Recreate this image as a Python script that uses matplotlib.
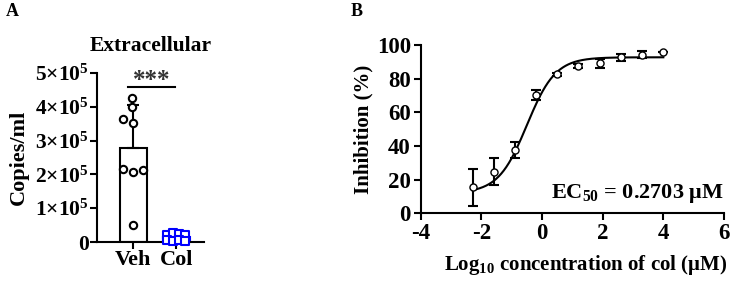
import numpy as np
import matplotlib
matplotlib.use('Agg')
import matplotlib.pyplot as plt

plt.rcParams['font.family'] = ['Liberation Serif', 'DejaVu Serif']
plt.rcParams['font.weight'] = 'bold'
plt.rcParams['mathtext.default'] = 'regular'
plt.rcParams['axes.linewidth'] = 1.5
plt.rcParams['axes.unicode_minus'] = False

# Panel A data (copies/ml)
groups = ['Veh', 'Col']
veh_vals = np.array([3.64, 4.25, 4.0, 3.53, 2.16, 2.07, 2.14, 0.49]) * 1e5
veh_xoff = [-0.23, -0.02, -0.02, 0.0, -0.23, 0.0, 0.23, 0.0]
col_vals = np.array([0.22, 0.26, 0.24, 0.22, 0.05, 0.03, 0.06, 0.04]) * 1e5
col_xoff = [-0.22, -0.07, 0.07, 0.21, -0.22, -0.07, 0.07, 0.21]
ytick_vals = [0, 1e5, 2e5, 3e5, 4e5, 5e5]
ytick_labels = ['0', '1×10$^5$', '2×10$^5$', '3×10$^5$', '4×10$^5$', '5×10$^5$']

# Panel B data
log_conc = [-2.29, -1.59, -0.89, -0.19, 0.5, 1.2, 1.9, 2.6, 3.3, 4.0]
inhib = [15.4, 24.8, 37.6, 70.1, 82.6, 87.5, 89.1, 92.7, 94.3, 96.0]
inhib_err = [11.0, 8.0, 5.0, 3.0, 1.0, 1.0, 2.5, 2.0, 2.2, 0.0]
# 4PL fit parameters (bottom, top, logEC50 of curve, hill)
fit_bottom, fit_top, fit_logc, fit_hill = 12.0, 92.7, -0.5, 0.92

fig = plt.figure(figsize=(7.3, 2.81), dpi=100)

# ---------- Panel A ----------
axA = fig.add_axes([97/730, 39/281, 107/730, 169/281])
means = [veh_vals.mean(), col_vals.mean()]
sds = [veh_vals.std(ddof=1), col_vals.std(ddof=1)]
axA.bar([0], [means[0]], width=0.63, color='white', edgecolor='black', linewidth=1.5, zorder=1)
axA.bar([1], [means[1]], width=0.63, color='white', edgecolor='#0000ff', linewidth=1.5, zorder=1)
axA.errorbar([0], [means[0]], yerr=[[0], [sds[0]]], fmt='none', ecolor='black',
             elinewidth=1.5, capsize=4, capthick=1.5, zorder=2)
axA.scatter(np.array(veh_xoff), veh_vals, s=28, facecolor='white', edgecolor='black',
            linewidth=1.5, zorder=3, clip_on=False)
axA.scatter(1 + np.array(col_xoff), col_vals, marker='s', s=30, facecolor='white',
            edgecolor='#0000ff', linewidth=1.5, zorder=3, clip_on=False)
axA.plot([-0.12, 0.98], [4.58e5, 4.58e5], color='black', lw=1.5, clip_on=False)
axA.text(0.43, 4.45e5, '***', ha='center', va='bottom', fontsize=18,
         color='#333333', clip_on=False)
axA.set_xlim(-0.84, 1.65)
axA.set_ylim(0, 5e5)
axA.set_xticks([0, 1])
axA.set_xticklabels(groups, fontsize=16, fontweight='bold')
axA.set_yticks(ytick_vals)
axA.set_yticklabels(ytick_labels, fontsize=15.5, fontweight='bold')
axA.tick_params(width=1.5, length=5, pad=1)
axA.spines['top'].set_visible(False)
axA.spines['right'].set_visible(False)
axA.set_ylabel('Copies/ml', fontsize=16, fontweight='bold')
axA.yaxis.set_label_coords(-0.64, 0.5)
axA.set_title('Extracellular', fontsize=15.5, fontweight='bold', pad=16)

# ---------- Panel B ----------
axB = fig.add_axes([420.7/730, 67.7/281, 303.3/730, 168.3/281])
xf = np.linspace(log_conc[0], log_conc[-1], 300)
yf = fit_bottom + (fit_top - fit_bottom) / (1 + 10 ** ((fit_logc - xf) * fit_hill))
axB.plot(xf, yf, color='black', lw=1.5, zorder=2)
axB.errorbar(log_conc, inhib, yerr=inhib_err, fmt='none', ecolor='black',
             elinewidth=1.5, capsize=3.5, capthick=1.5, zorder=3)
axB.scatter(log_conc, inhib, s=26, facecolor='white', edgecolor='black',
            linewidth=1.0, zorder=4, clip_on=False)
axB.set_xlim(-4, 6)
axB.set_ylim(0, 100)
axB.set_xticks([-4, -2, 0, 2, 4, 6])
axB.set_yticks([0, 20, 40, 60, 80, 100])
axB.tick_params(labelsize=16.5, width=1.5, length=5, pad=2)
for lab in axB.get_xticklabels() + axB.get_yticklabels():
    lab.set_fontweight('bold')
axB.spines['top'].set_visible(False)
axB.spines['right'].set_visible(False)
axB.set_ylabel('Inhibition (%)', fontsize=15, fontweight='bold')
axB.yaxis.set_label_coords(-0.155, 0.5)
axB.set_xlabel('Log$_{10}$ concentration of col (μM)', fontsize=15, fontweight='bold')
axB.xaxis.set_label_coords(0.545, -0.235)
axB.text(6, 9, 'EC$_{50}$ = 0.2703 μM', ha='right', va='baseline',
         fontsize=16, fontweight='bold')

fig.text(12/730, 1 - 12/281, 'A', fontsize=13, fontweight='bold', ha='center', va='center')
fig.text(357/730, 1 - 12/281, 'B', fontsize=13, fontweight='bold', ha='center', va='center')

fig.savefig('out.png', dpi=100)
